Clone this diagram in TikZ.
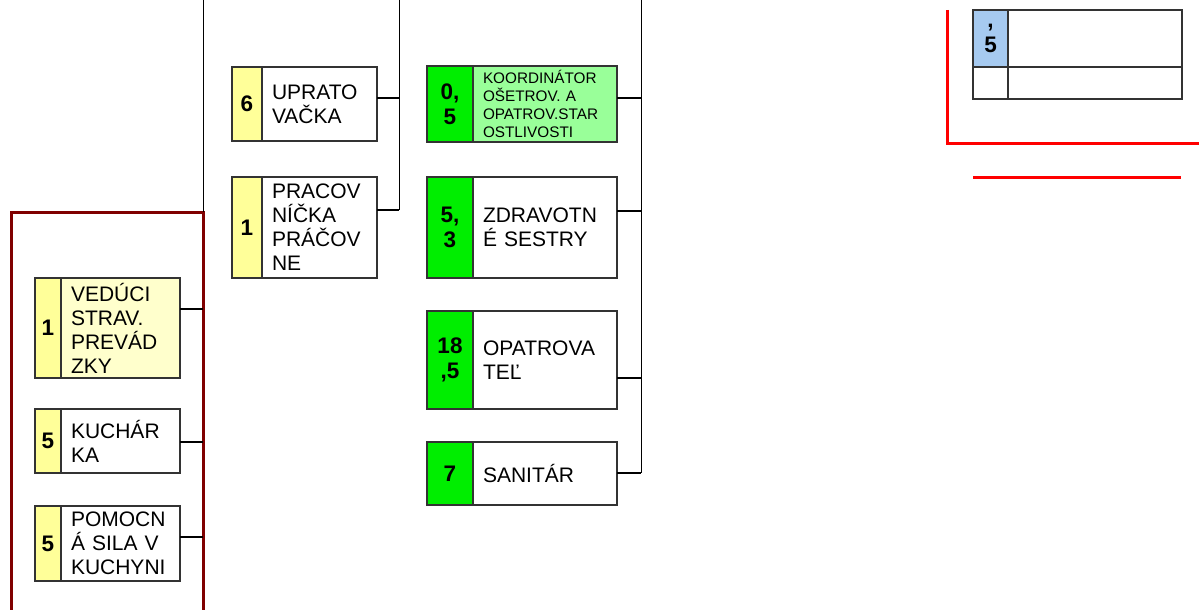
\documentclass[tikz,border=0pt]{standalone}
\usepackage{fontspec}
\setmainfont{Liberation Sans}
\usepackage{xcolor}
\usetikzlibrary{positioning}
\definecolor{numyellow}{HTML}{FFFF99}
\definecolor{paleyellow}{HTML}{FFFFCC}
\definecolor{numgreen}{HTML}{00EE00}
\definecolor{palegreen}{HTML}{99FF99}
\definecolor{numblue}{HTML}{A6CAF0}
\definecolor{boxline}{HTML}{333333}
\definecolor{framered}{HTML}{800000}
\tikzset{
  boxcell/.style  = {rectangle, draw=boxline, line width=1.3pt,
                     inner sep=0pt, outer sep=0pt},
  txtcell/.style  = {boxcell, fill=white, align=left, inner xsep=10pt,
                     font=\fontsize{21}{24}\selectfont},
  numcell/.style  = {boxcell, align=center,
                     font=\fontsize{22.5}{25}\selectfont\bfseries},
  leftcol/.style  = {txtcell, text width=99pt},
  midcol/.style   = {txtcell, text width=95pt},
  greencol/.style = {txtcell, text width=124pt},
  smalltxt/.style = {font=\fontsize{15.3}{17.8}\selectfont},
  link/.style     = {draw=black, line width=1.2pt},
  bus/.style      = {draw=black, line width=1pt},
  darkframe/.style= {draw=framered, line width=3pt},
  redline/.style  = {draw=red, line width=3pt},
}

\begin{document}
\begin{tikzpicture}[x=1pt, y=-1pt]
  \useasboundingbox (0,0) rectangle (1199,610);

  % kitchen group
  \draw[darkframe] (11,610) -- (11,212) -- (203,212) -- (203,610);
  \node[leftcol, fill=paleyellow, minimum height=100pt] (ved) at (120.5,328)
    {VEDÚCI\\STRAV.\\PREVÁD\\ZKY};
  \node[numcell, fill=numyellow, minimum width=26pt, minimum height=100pt,
        left=0pt of ved] (vednum) {1};
  \node[leftcol, minimum height=64pt] (kuch) at (120.5,441) {KUCHÁR\\KA};
  \node[numcell, fill=numyellow, minimum width=26pt, minimum height=64pt,
        left=0pt of kuch] (kuchnum) {5};
  \node[leftcol, minimum height=75pt] (pomoc) at (120.5,543.5)
    {POMOCN\\Á SILA V\\KUCHYNI};
  \node[numcell, fill=numyellow, minimum width=26pt, minimum height=75pt,
        left=0pt of pomoc] (pomocnum) {5};

  % cleaning group
  \node[midcol, minimum height=74pt] (upr) at (319.5,104) {UPRATO\\VAČKA};
  \node[numcell, fill=numyellow, minimum width=30pt, minimum height=74pt,
        left=0pt of upr] (uprnum) {6};
  \node[midcol, minimum height=101pt] (prac) at (319.5,227.5)
    {PRACOV\\NÍČKA\\PRÁČOV\\NE};
  \node[numcell, fill=numyellow, minimum width=30pt, minimum height=101pt,
        left=0pt of prac] (pracnum) {1};

  % care group
  \node[greencol, smalltxt, fill=palegreen, minimum height=76pt] (koord)
    at (545,104) {KOORDINÁTOR\\OŠETROV. A\\OPATROV.STAR\\OSTLIVOSTI};
  \node[numcell, fill=numgreen, minimum width=46pt, minimum height=76pt,
        left=0pt of koord] (koordnum) {0,\\5};
  \node[greencol, minimum height=101pt] (zdrav) at (545,227.5)
    {ZDRAVOTN\\É SESTRY};
  \node[numcell, fill=numgreen, minimum width=46pt, minimum height=101pt,
        left=0pt of zdrav] (zdravnum) {5,\\3};
  \node[greencol, minimum height=98pt] (opat) at (545,360) {OPATROVA\\TEĽ};
  \node[numcell, fill=numgreen, minimum width=46pt, minimum height=98pt,
        left=0pt of opat] (opatnum) {18\\,5};
  \node[greencol, minimum height=63pt] (sanit) at (545,473.5) {SANITÁR};
  \node[numcell, fill=numgreen, minimum width=46pt, minimum height=63pt,
        left=0pt of sanit] (sanitnum) {7};

  % bus lines
  \coordinate (busLtop) at (203,0);
  \coordinate (busLend) at (203,212);
  \coordinate (busMtop) at (399,0);
  \coordinate (busRtop) at (641,0);
  \coordinate (jVed)   at (203,309);
  \coordinate (jKuch)  at (203,442);
  \coordinate (jPomoc) at (203,537);
  \coordinate (jUpr)   at (399,98);
  \coordinate (jPrac)  at (399,210);
  \coordinate (jKoord) at (641,98);
  \coordinate (jZdrav) at (641,211);
  \coordinate (jOpat)  at (641,378);
  \coordinate (jSanit) at (641,473);
  \draw[bus] (busLtop) -- (busLend);
  \draw[bus] (busMtop) -- (jPrac);
  \draw[bus] (busRtop) -- (jSanit);

  \draw[link] (ved.east |- jVed) -- (jVed);
  \draw[link] (kuch.east |- jKuch) -- (jKuch);
  \draw[link] (pomoc.east |- jPomoc) -- (jPomoc);
  \draw[link] (upr.east |- jUpr) -- (jUpr);
  \draw[link] (prac.east |- jPrac) -- (jPrac);
  \draw[link] (koord.east |- jKoord) -- (jKoord);
  \draw[link] (zdrav.east |- jZdrav) -- (jZdrav);
  \draw[link] (opat.east |- jOpat) -- (jOpat);
  \draw[link] (sanit.east |- jSanit) -- (jSanit);

  % top right corner
  \draw[redline] (947,10) -- (947,143) -- (1199,143);
  \draw[redline] (973,177) -- (1181,177);
  \node[numcell, fill=numblue, minimum width=35pt, minimum height=57pt]
    (tnum) at (990.5,38.5) {,\\5};
  \node[boxcell, fill=white, minimum width=174pt, minimum height=57pt,
        right=0pt of tnum] (ttxt) {};
  \node[boxcell, fill=white, minimum width=35pt, minimum height=32pt,
        below=0pt of tnum] (tnumb) {};
  \node[boxcell, fill=white, minimum width=174pt, minimum height=32pt,
        right=0pt of tnumb] (ttxtb) {};
\end{tikzpicture}
\end{document}
